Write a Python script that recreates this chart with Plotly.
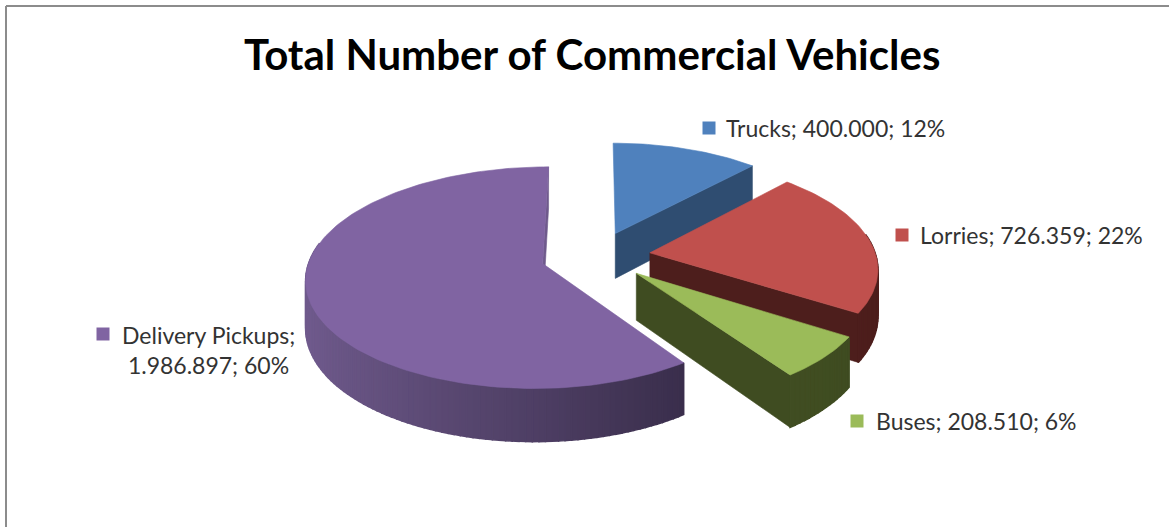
import math
import plotly.graph_objects as go

# ---- data ----
categories = ["Trucks", "Lorries", "Buses", "Delivery Pickups"]
values = [400000, 726359, 208510, 1986897]
top_colors = ["#4f81bd", "#c0504d", "#9bbb59", "#8064a2"]
cut_colors = ["#2f4d71", "#4d1e1c", "#3f4c21", "#3a2d4d"]
wall_dark = ["#2f4d71", "#4d1e1c", "#3f4c21", "#302640"]
wall_light = ["#3a5f8a", "#6e2422", "#465626", "#6f5a8c"]
draw_order = [0, 1, 3, 2]
title_text = "Total Number of Commercial Vehicles"

# ---- projection of the exploded, tilted pie onto the axes ----
CX, CY = 595.5, 256.0
R, PULL, TILT, PERSP, DEPTH = 238.0, 55.0, 0.45, 0.126, 46.0
RIGHT_SCALE, LEFT_SCALE = 0.95, 0.975


def project(u, v, z=0.0):
    s = 1.0 / (1.0 - PERSP * v / R)
    return CX + u * s, CY + (TILT * v + z) * s


def rim(theta, ou, ov):
    sx = math.sin(theta)
    return ou + R * sx * (RIGHT_SCALE if sx > 0 else LEFT_SCALE), ov - R * math.cos(theta)


def mix(c1, c2, t):
    a = [int(c1[i:i + 2], 16) for i in (1, 3, 5)]
    b = [int(c2[i:i + 2], 16) for i in (1, 3, 5)]
    return "#%02x%02x%02x" % tuple(round(x + (y - x) * t) for x, y in zip(a, b))


def polygon(fig, pts, color, width=0.6):
    xs = [p[0] for p in pts] + [pts[0][0]]
    ys = [p[1] for p in pts] + [pts[0][1]]
    fig.add_trace(go.Scatter(x=xs, y=ys, mode="lines", fill="toself", fillcolor=color,
                             line=dict(color=color, width=width), hoverinfo="skip",
                             showlegend=False))


fig = go.Figure()
total = sum(values)
starts, acc = [], 0.0
for val in values:
    starts.append(acc / total * 2 * math.pi)
    acc += val

for i in draw_order:
    a0 = starts[i]
    a1 = a0 + values[i] / total * 2 * math.pi
    mid = (a0 + a1) / 2
    ou, ov = PULL * math.sin(mid), -PULL * math.cos(mid)
    n = max(8, int((a1 - a0) * 40))
    angles = [a0 + (a1 - a0) * k / n for k in range(n + 1)]
    apex = (ou, ov)

    # the clockwise cut face looks at the viewer; at twelve o'clock it is a sliver
    e = rim(a1, ou, ov)
    face = cut_colors[i] if math.sin(a1) > 1e-6 else wall_light[i]
    polygon(fig, [project(*apex), project(*e), project(*e, DEPTH), project(*apex, DEPTH)], face)

    # outer wall, as shaded strips
    for k in range(n):
        t0, t1 = angles[k], angles[k + 1]
        tm = (t0 + t1) / 2
        if math.cos(tm) > 0.18:
            continue
        p0, p1 = rim(t0, ou, ov), rim(t1, ou, ov)
        shade = min(1.0, max(0.0, (0.85 - math.sin(tm)) / 1.8))
        polygon(fig, [project(*p0), project(*p1), project(*p1, DEPTH), project(*p0, DEPTH)],
                mix(wall_dark[i], wall_light[i], shade), width=1.5)

    # top surface
    polygon(fig, [project(*apex)] + [project(*rim(t, ou, ov)) for t in angles], top_colors[i])

# ---- data labels with their small keys ----
label_text = []
for cat, val in zip(categories, values):
    num = f"{val:,}".replace(",", ".")
    pct = round(val / total * 100)
    if cat == "Delivery Pickups":
        label_text.append(f"{cat};<br> {num}; {pct}%")
    else:
        label_text.append(f"{cat}; {num}; {pct}%")

key_x = [709, 902, 857, 103]
key_y = [128, 235, 421, 334]
text_x = [724, 918, 874, 120]
text_y = [128, 235, 421, 350]
fig.add_trace(go.Scatter(x=key_x, y=key_y, mode="markers",
                         marker=dict(symbol="square", size=13, color=top_colors, line=dict(width=0)),
                         hoverinfo="skip", showlegend=False))
for txt, tx, ty in zip(label_text, text_x, text_y):
    fig.add_annotation(x=tx, y=ty, text=txt, showarrow=False, xanchor="left", yanchor="middle",
                       align="left", font=dict(family="Lato, Open Sans, sans-serif", size=23, color="#333333"))

fig.add_annotation(x=592, y=54, text=f"<b>{title_text}</b>", showarrow=False, xanchor="center", yanchor="middle",
                   font=dict(family="Lato, Open Sans, sans-serif", size=42, color="#000000"))

# chart frame: only the top and left edges fall inside the picture
fig.add_shape(type="line", x0=6, y0=6, x1=1169, y1=6, line=dict(color="#8c8c8c", width=2))
fig.add_shape(type="line", x0=6, y0=6, x1=6, y1=527, line=dict(color="#8c8c8c", width=2))

fig.update_layout(width=1169, height=527, autosize=False, margin=dict(l=0, r=0, t=0, b=0),
                  paper_bgcolor="white", plot_bgcolor="white", showlegend=False,
                  xaxis=dict(range=[0, 1169], visible=False, fixedrange=True),
                  yaxis=dict(range=[527, 0], visible=False, fixedrange=True))
fig.write_html("out.html", config={"displayModeBar": False},
               post_script="document.body.style.margin='0';document.body.style.overflow='hidden';")
